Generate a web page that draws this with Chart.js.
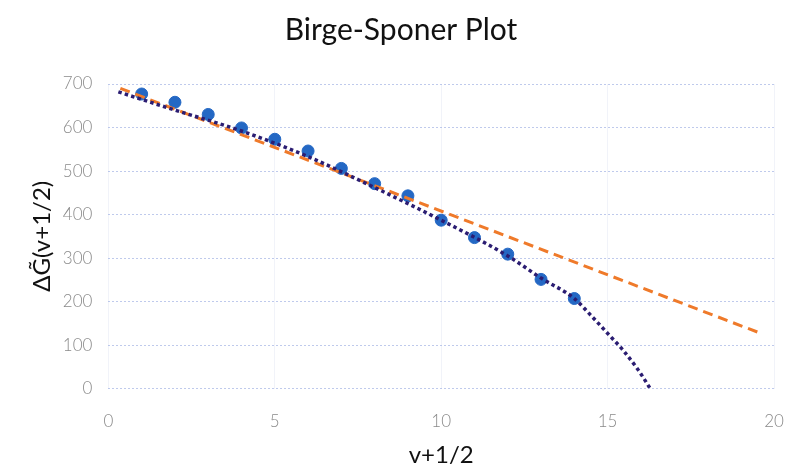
<!DOCTYPE html>
<html>
<head>
<meta charset="utf-8">
<script src="https://cdn.jsdelivr.net/npm/chart.js@4.4.0/dist/chart.umd.min.js"></script>
<style>
  html, body { margin: 0; padding: 0; background: #ffffff; }
  #wrap { width: 788px; height: 470px; }
</style>
</head>
<body>
<div id="wrap"><canvas id="c" width="788" height="470"></canvas></div>
<script>
// Measured data: v+1/2 and ΔG(v+1/2)
const vHalf = [1, 2, 3, 4, 5, 6, 7, 8, 9, 10, 11, 12, 13, 14];
const deltaG = [677, 658, 630, 599, 573, 546, 506, 471, 443, 387, 347, 309, 251, 207];

// Linear (dashed orange) fit line endpoints
const linearX = [0.36, 19.5];
const linearY = [690, 130];

// Curved (dotted purple) fit
const curveX = [0.3, 2, 4, 6, 8, 10, 12, 13, 14, 14.5, 15, 15.5, 15.9, 16.1, 16.28];
const curveY = [682, 640, 592, 533, 462, 387, 305, 254, 207, 168, 127, 85, 45, 22, 0];

// Axis ticks
const xTicks = [0, 5, 10, 15, 20];
const yTicks = [0, 100, 200, 300, 400, 500, 600, 700];

const titleText = 'Birge-Sponer Plot';
const xTitle = 'v+1/2';
const yTitle = 'ΔG\u0303(v+1/2)';

const toXY = (xs, ys) => xs.map((x, i) => ({ x: x, y: ys[i] }));

const FONT = 'Lato, "Open Sans", sans-serif';

new Chart(document.getElementById('c'), {
  type: 'scatter',
  data: {
    datasets: [
      {
        label: 'poly',
        type: 'line',
        data: toXY(curveX, curveY),
        borderColor: '#2b1d72',
        borderWidth: 3.5,
        borderDash: [3.5, 3.2],
        borderCapStyle: 'butt',
        pointRadius: 0,
        fill: false,
        cubicInterpolationMode: 'monotone'
      },
      {
        label: 'linear',
        type: 'line',
        data: toXY(linearX, linearY),
        borderColor: '#ef7a2a',
        borderWidth: 3,
        borderDash: [10, 6],
        pointRadius: 0,
        fill: false
      },
      {
        label: 'data',
        data: toXY(vHalf, deltaG),
        backgroundColor: '#2468c4',
        borderColor: '#2468c4',
        pointRadius: 6,
        pointHoverRadius: 6
      }
    ]
  },
  options: {
    responsive: false,
    animation: false,
    layout: { padding: { left: 14, right: 0, top: 6, bottom: 3 } },
    plugins: {
      legend: { display: false },
      tooltip: { enabled: false },
      title: {
        display: true,
        text: titleText,
        color: '#111',
        font: { family: FONT, size: 30, weight: 'normal' },
        padding: { top: 6, bottom: 36 }
      }
    },
    scales: {
      x: {
        type: 'linear',
        min: 0,
        max: 20,
        afterBuildTicks: (axis) => { axis.ticks = xTicks.map(v => ({ value: v })); },
        afterFit: (scale) => { scale.paddingRight = 14; },
        border: { display: false },
        grid: { color: 'rgba(225,228,242,0.45)', lineWidth: 1, drawTicks: false },
        ticks: { color: '#8a8a8a', font: { family: FONT, size: 17, weight: '300' }, padding: 23 },
        title: { display: true, text: xTitle, color: '#111', font: { family: FONT, size: 24, lineHeight: 1 }, padding: { top: -12, bottom: 0 } }
      },
      y: {
        type: 'linear',
        min: 0,
        max: 700,
        afterBuildTicks: (axis) => { axis.ticks = yTicks.map(v => ({ value: v })); },
        border: { display: false, dash: [2, 2] },
        grid: { color: 'rgba(170,184,230,0.75)', lineWidth: 1, drawTicks: false },
        ticks: { color: '#8a8a8a', font: { family: FONT, size: 17, weight: '300' }, padding: 16 },
        title: { display: true, text: yTitle, color: '#111', font: { family: FONT, size: 24 }, padding: { top: 14, bottom: -10 } }
      }
    }
  }
});
</script>
</body>
</html>
